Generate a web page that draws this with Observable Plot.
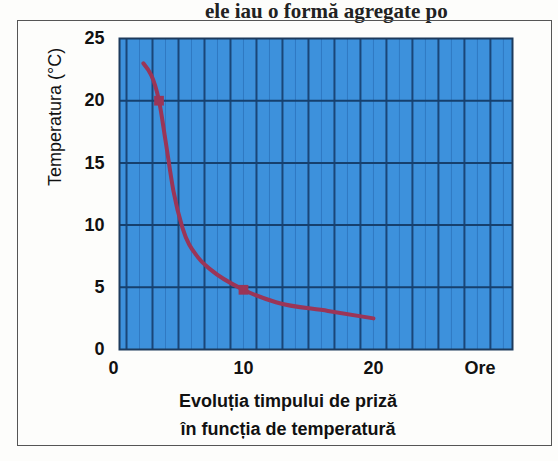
<!DOCTYPE html>
<html><head><meta charset="utf-8">
<script src="https://cdn.jsdelivr.net/npm/d3@7"></script>
<script src="https://cdn.jsdelivr.net/npm/@observablehq/plot@0.6"></script>
<style>
body{margin:0;background:#fff;}
#wrap{position:relative;width:558px;height:461px;overflow:hidden;background:#fdfdfb;}
#top{position:absolute;left:205px;top:0px;font:bold 21px "Liberation Serif",serif;white-space:nowrap;color:#222;line-height:22px;}
#box{position:absolute;left:17px;top:20px;width:535px;height:426px;border:1.5px solid #555;box-sizing:border-box;}
#chart{position:absolute;left:0;top:0;}
#cap{position:absolute;left:0;width:576px;top:387px;text-align:center;font:bold 18px "Liberation Sans",Arial,sans-serif;line-height:28px;color:#111;}
</style></head>
<body>
<div id="wrap">
  <div id="top">ele iau o formă agregate po</div>
  <div id="box"></div>
  <div id="chart"></div>
  <div id="cap">Evoluția timpului de priză<br>în funcția de temperatură</div>
</div>
<script>
// Data
const hours = [2.3, 3.5, 4.0, 4.6, 5.3, 6.5, 7.5, 10, 12.5, 16.5, 20];
const temps = [23, 20, 16.8, 12.8, 9.8, 7.4, 6.4, 4.8, 3.8, 3.1, 2.5];
const markerHours = [3.5, 10];
const markerTemps = [20, 4.8];
const xTicks = [0, 10, 20];
const yTicks = [0, 5, 10, 15, 20, 25];
const gridXMajor = [1, 3, 5, 7, 9, 11, 13, 15, 17, 19, 21, 23, 25, 27, 29];
const gridXMinor = [2, 4, 6, 8, 10, 12, 14, 16, 18, 20, 22, 24, 26, 28, 30];
const gridY = [5, 10, 15, 20];
const xUnitLabel = ["Ore"];
const xUnitPos = [28.2];
const yLabel = ["Temperatura (°C)"];

const curve = hours.map((h, i) => ({h, t: temps[i]}));
const markers = markerHours.map((h, i) => ({h, t: markerTemps[i]}));
const unit = xUnitLabel.map((s, i) => ({s, h: xUnitPos[i]}));

const chart = Plot.plot({
  width: 558,
  height: 390,
  marginLeft: 119,
  marginRight: 46,
  marginTop: 38,
  marginBottom: 41,
  style: {background: "transparent", fontFamily: '"Liberation Sans", Arial, sans-serif', overflow: "visible"},
  x: {domain: [0.46, 30.7]},
  y: {domain: [0, 25]},
  marks: [
    Plot.frame({fill: "#3d91dc"}),
    Plot.ruleX(gridXMinor, {stroke: "#3079c2", strokeWidth: 1}),
    Plot.ruleX(gridXMajor, {stroke: "#1a4678", strokeWidth: 2}),
    Plot.ruleY(gridY, {stroke: "#16406e", strokeWidth: 2}),
    Plot.frame({stroke: "#1d3a5c", strokeWidth: 2}),
    Plot.line(curve, {x: "h", y: "t", curve: "monotone-x", stroke: "#9b3557", strokeWidth: 4}),
    Plot.dot(markers, {x: "h", y: "t", symbol: "square", r: 5.5, fill: "#9b3557", stroke: "none"}),
    Plot.axisX({ticks: xTicks, tickSize: 0, tickPadding: 12, fontSize: 18, fontWeight: "bold", label: null, fill: "#111"}),
    Plot.axisY({ticks: yTicks, tickSize: 0, tickPadding: 15, fontSize: 18, fontWeight: "bold", label: null, fill: "#111"}),
    Plot.text(unit, {x: "h", y: 0, text: "s", lineAnchor: "top", dy: 12, fontSize: 18, fontWeight: "bold", fill: "#111"}),
    Plot.text(yLabel, {frameAnchor: "left", rotate: -90, dx: -64, dy: -8, fontSize: 18, fill: "#111"})
  ]
});
document.getElementById("chart").appendChild(chart);
</script>
</body></html>
